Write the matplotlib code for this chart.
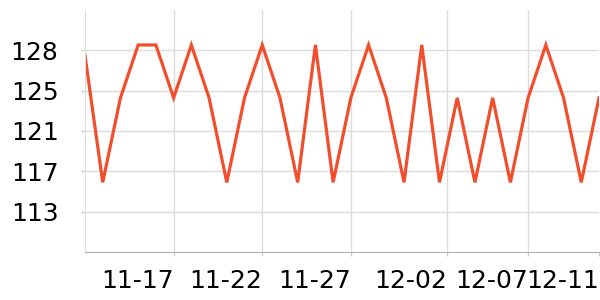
import matplotlib.pyplot as plt
import pandas as pd

# daily values, 11-12 .. 12-11
dates = pd.date_range('2023-11-12', '2023-12-11', freq='D')
values = [128, 116, 124, 129, 129, 124, 129, 124, 116, 124,
          129, 124, 116, 129, 116, 124, 129, 124, 116, 129,
          116, 124, 116, 124, 116, 124, 129, 124, 116, 124]

tick_dates = pd.to_datetime(['2023-11-17 00:00', '2023-11-22 00:00', '2023-11-27 00:00',
                             '2023-12-02 10:00', '2023-12-07 00:00', '2023-12-11 00:00'])
tick_labels = ['11-17', '11-22', '11-27', '12-02', '12-07', '12-11']

fig = plt.figure(figsize=(6, 3), dpi=100)
ax = fig.add_axes([85 / 600, 48 / 300, 514 / 600, 242 / 300])

ax.plot(dates, values, color='#f04e2d', lw=2.3, solid_joinstyle='miter')

# y axis: 6 even steps, labels rounded
step = 3.816
y0 = 113.23
ax.set_ylim(y0 - step, y0 + 5 * step)
ax.set_yticks([y0 + i * step for i in range(5)])
ax.set_yticklabels(['%.0f' % (y0 + i * step) for i in range(5)])

ax.set_xlim(dates[0], dates[-1])
ax.set_xticks(list(tick_dates))
ax.set_xticklabels(tick_labels, ha='right')

ax.grid(True, color='#dcdcdc', lw=1)
ax.set_axisbelow(True)
# no grid line at the right edge
ax.get_xgridlines()[-1].set_visible(False)
for s in ['top', 'right']:
    ax.spines[s].set_visible(False)
ax.spines['left'].set_color('#dcdcdc')
ax.spines['bottom'].set_color('#b0b0b0')
ax.tick_params(axis='both', length=3, color='#c8c8c8', labelsize=18)
ax.tick_params(axis='y', pad=16)
ax.tick_params(axis='x', pad=9)

fig.savefig('out.png', dpi=100)
